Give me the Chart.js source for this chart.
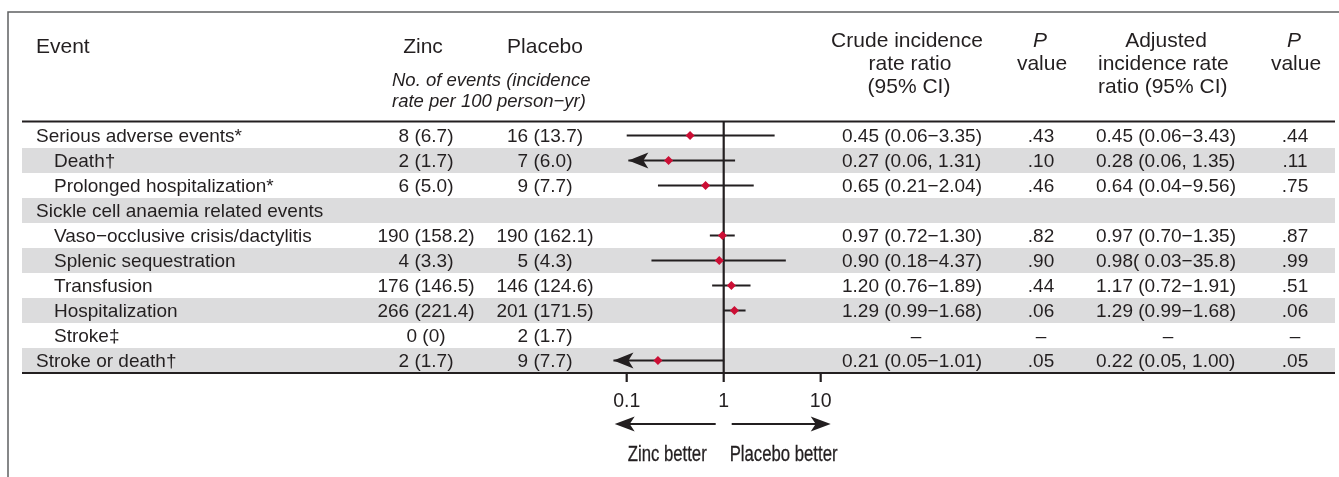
<!DOCTYPE html>
<html>
<head>
<meta charset="utf-8">
<script src="https://cdn.jsdelivr.net/npm/chart.js@4/dist/chart.umd.min.js"></script>
<style>
  html, body { margin: 0; padding: 0; background: #fff; }
  #wrap { position: relative; width: 1339px; height: 477px; }
</style>
</head>
<body>
<div id="wrap"><canvas id="forest"></canvas></div>
<script>
// table rows (top to bottom)
const events = ['Serious adverse events*', 'Death†', 'Prolonged hospitalization*',
    'Sickle cell anaemia related events', 'Vaso−occlusive crisis/dactylitis',
    'Splenic sequestration', 'Transfusion', 'Hospitalization', 'Stroke‡', 'Stroke or death†'];
const indent = [0, 1, 1, 0, 1, 1, 1, 1, 1, 0];
const zincEvents = ['8 (6.7)', '2 (1.7)', '6 (5.0)', '', '190 (158.2)', '4 (3.3)', '176 (146.5)', '266 (221.4)', '0 (0)', '2 (1.7)'];
const placeboEvents = ['16 (13.7)', '7 (6.0)', '9 (7.7)', '', '190 (162.1)', '5 (4.3)', '146 (124.6)', '201 (171.5)', '2 (1.7)', '9 (7.7)'];

// crude incidence rate ratios (plotted)
const crudeIRR = [0.45, 0.27, 0.65, null, 0.97, 0.90, 1.20, 1.29, null, 0.21];
const crudeLow = [0.06, 0.06, 0.21, null, 0.72, 0.18, 0.76, 0.99, null, 0.05];
const crudeHigh = [3.35, 1.31, 2.04, null, 1.30, 4.37, 1.89, 1.68, null, 1.01];
// where a truncated CI ends in an arrow
const arrowTip = [null, 0.104, null, null, null, null, null, null, null, 0.073];

const crudeText = ['0.45 (0.06−3.35)', '0.27 (0.06, 1.31)', '0.65 (0.21−2.04)', '', '0.97 (0.72−1.30)',
    '0.90 (0.18−4.37)', '1.20 (0.76−1.89)', '1.29 (0.99−1.68)', '–', '0.21 (0.05−1.01)'];
const crudeP = ['.43', '.10', '.46', '', '.82', '.90', '.44', '.06', '–', '.05'];
const adjText = ['0.45 (0.06−3.43)', '0.28 (0.06, 1.35)', '0.64 (0.04−9.56)', '', '0.97 (0.70−1.35)',
    '0.98( 0.03−35.8)', '1.17 (0.72−1.91)', '1.29 (0.99−1.68)', '–', '0.22 (0.05, 1.00)'];
const adjP = ['.44', '.11', '.75', '', '.87', '.99', '.51', '.06', '–', '.05'];

const tickValues = [0.1, 1, 10];
const tickLabels = ['0.1', '1', '10'];

const INK = '#231f20';
const BAND = '#dcdcdd';
const RED = '#cc0f35';
const FONT = '"Liberation Sans", Arial, Helvetica, sans-serif';
const axisFloor = 0.1;

// one dataset per CI whisker
const whiskers = crudeIRR.map((v, i) => ({
    type: 'line',
    data: v == null ? [] : [
        { x: arrowTip[i] != null ? arrowTip[i] : Math.max(crudeLow[i], axisFloor), y: i },
        { x: crudeHigh[i], y: i }
    ],
    borderColor: INK,
    borderWidth: 2,
    pointRadius: 0,
    order: 2
}));

const points = {
    type: 'scatter',
    data: crudeIRR.map((v, i) => v == null ? null : { x: v, y: i }).filter(p => p),
    pointStyle: 'rectRot',
    pointRadius: 4.5,
    backgroundColor: RED,
    borderColor: RED,
    borderWidth: 0,
    order: 1
};

function txt(ctx, s, x, y, align, font) {
    ctx.font = font;
    ctx.textAlign = align;
    ctx.fillText(s, x, y);
}

// condensed look: squeeze regular sans horizontally, a touch heavier
function narrowTxt(ctx, s, x, y, align, font, squeeze) {
    ctx.save();
    ctx.translate(x, y);
    ctx.scale(squeeze, 1);
    txt(ctx, s, 0, 0, align, font);
    ctx.strokeStyle = INK;
    ctx.lineWidth = 0.3;
    ctx.strokeText(s, 0, 0);
    ctx.restore();
}

const forestTable = {
    id: 'forestTable',
    beforeDatasetsDraw(chart) {
        const { ctx } = chart;
        const xs = chart.scales.x, ys = chart.scales.y;
        const rowH = Math.abs(ys.getPixelForValue(1) - ys.getPixelForValue(0));
        const top = ys.getPixelForValue(-0.5), bottom = ys.getPixelForValue(events.length - 0.5);
        ctx.save();

        // outer frame
        ctx.strokeStyle = '#5f6062';
        ctx.lineWidth = 1.5;
        ctx.beginPath();
        ctx.moveTo(8, 477); ctx.lineTo(8, 12); ctx.lineTo(1339, 12);
        ctx.stroke();

        // alternating bands
        ctx.fillStyle = BAND;
        events.forEach((e, i) => {
            if (i % 2 === 1) ctx.fillRect(22, ys.getPixelForValue(i) - rowH / 2, 1313, rowH);
        });

        // header and bottom rules
        ctx.strokeStyle = INK;
        ctx.lineWidth = 2.2;
        ctx.beginPath();
        ctx.moveTo(22, top - 1.5); ctx.lineTo(1335, top - 1.5);
        ctx.moveTo(22, bottom); ctx.lineTo(1335, bottom);
        ctx.stroke();

        // null line and ticks
        const x1 = xs.getPixelForValue(1);
        ctx.lineWidth = 2.2;
        ctx.beginPath();
        ctx.moveTo(x1, top - 2); ctx.lineTo(x1, bottom + 9);
        tickValues.forEach(v => {
            const px = xs.getPixelForValue(v);
            ctx.moveTo(px, bottom); ctx.lineTo(px, bottom + 9);
        });
        ctx.stroke();
        ctx.restore();
    },
    afterDatasetsDraw(chart) {
        const { ctx } = chart;
        const xs = chart.scales.x, ys = chart.scales.y;
        const bottom = ys.getPixelForValue(events.length - 0.5);
        ctx.save();
        ctx.fillStyle = INK;

        // arrowheads on truncated CIs
        arrowTip.forEach((t, i) => {
            if (t == null) return;
            const px = xs.getPixelForValue(t), py = ys.getPixelForValue(i);
            ctx.beginPath();
            ctx.moveTo(px, py);
            ctx.lineTo(px + 20, py - 8);
            ctx.lineTo(px + 15, py);
            ctx.lineTo(px + 20, py + 8);
            ctx.closePath();
            ctx.fill();
        });

        // header
        ctx.textBaseline = 'alphabetic';
        const H = '21px ' + FONT, HI = 'italic 18.5px ' + FONT;
        txt(ctx, 'Event', 36, 53, 'left', H);
        txt(ctx, 'Zinc', 423, 53, 'center', H);
        txt(ctx, 'Placebo', 545, 53, 'center', H);
        txt(ctx, 'No. of events (incidence', 392, 86, 'left', HI);
        txt(ctx, 'rate per 100 person−yr)', 392, 107, 'left', HI);
        txt(ctx, 'Crude incidence', 907, 47, 'center', H);
        txt(ctx, 'rate ratio', 910, 70, 'center', H);
        txt(ctx, '(95% CI)', 909, 93, 'center', H);
        txt(ctx, 'P', 1040, 47, 'center', 'italic 21px ' + FONT);
        txt(ctx, 'value', 1042, 70, 'center', H);
        txt(ctx, 'Adjusted', 1166, 47, 'center', H);
        txt(ctx, 'incidence rate', 1098, 70, 'left', H);
        txt(ctx, 'ratio (95% CI)', 1098, 93, 'left', H);
        txt(ctx, 'P', 1294, 47, 'center', 'italic 21px ' + FONT);
        txt(ctx, 'value', 1296, 70, 'center', H);

        // body rows
        const B = '19px ' + FONT;
        ctx.textBaseline = 'middle';
        events.forEach((e, i) => {
            const py = ys.getPixelForValue(i) + 1;
            txt(ctx, e, indent[i] ? 54 : 36, py, 'left', B);
            txt(ctx, zincEvents[i], 426, py, 'center', B);
            txt(ctx, placeboEvents[i], 545, py, 'center', B);
            if (crudeText[i] === '–') {
                txt(ctx, '–', 916, py, 'center', B);
                txt(ctx, '–', 1168, py, 'center', B);
            } else {
                txt(ctx, crudeText[i], 842, py, 'left', B);
                txt(ctx, adjText[i], 1096, py, 'left', B);
            }
            txt(ctx, crudeP[i], 1041, py, 'center', B);
            txt(ctx, adjP[i], 1295, py, 'center', B);
        });

        // axis tick labels
        ctx.textBaseline = 'alphabetic';
        tickValues.forEach((v, k) => {
            txt(ctx, tickLabels[k], xs.getPixelForValue(v), bottom + 34, 'center', '19.5px ' + FONT);
        });

        // direction arrows
        const x1 = xs.getPixelForValue(1);
        const ay = bottom + 51;
        const leftTip = xs.getPixelForValue(0.1) - 12, rightTip = xs.getPixelForValue(10) + 10;
        ctx.strokeStyle = INK;
        ctx.lineWidth = 2.2;
        ctx.beginPath();
        ctx.moveTo(x1 - 8, ay); ctx.lineTo(leftTip + 10, ay);
        ctx.moveTo(x1 + 8, ay); ctx.lineTo(rightTip - 10, ay);
        ctx.stroke();
        [[leftTip, 1], [rightTip, -1]].forEach(([tx, d]) => {
            ctx.beginPath();
            ctx.moveTo(tx, ay);
            ctx.lineTo(tx + d * 20, ay - 7.5);
            ctx.lineTo(tx + d * 15, ay);
            ctx.lineTo(tx + d * 20, ay + 7.5);
            ctx.closePath();
            ctx.fill();
        });
        narrowTxt(ctx, 'Zinc better', x1 - 17, bottom + 88, 'right', '22px ' + FONT, 0.76);
        narrowTxt(ctx, 'Placebo better', x1 + 6, bottom + 88, 'left', '22px ' + FONT, 0.76);
        ctx.restore();
    }
};

const chart = new Chart(document.getElementById('forest'), {
    data: { datasets: [...whiskers, points] },
    options: {
        responsive: true,
        maintainAspectRatio: false,
        animation: false,
        devicePixelRatio: 1,
        layout: { padding: { left: 597.5, right: 489.1, top: 123, bottom: 104 } },
        plugins: { legend: { display: false }, tooltip: { enabled: false } },
        scales: {
            x: { type: 'logarithmic', min: 0.05, max: 20, display: false },
            y: { type: 'linear', min: -0.5, max: events.length - 0.5, reverse: true, display: false }
        }
    },
    plugins: [forestTable]
});
</script>
</body>
</html>
